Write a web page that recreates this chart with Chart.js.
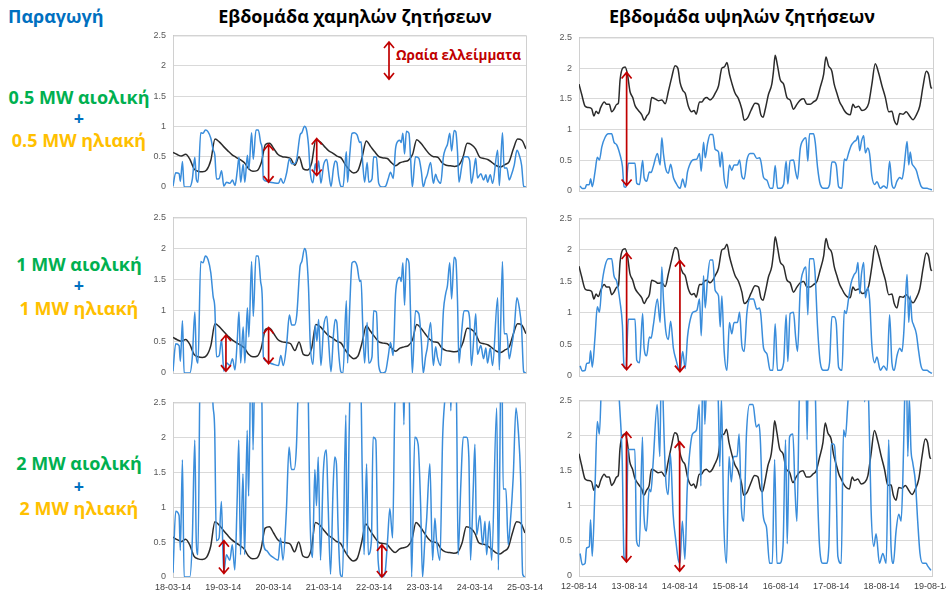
<!DOCTYPE html>
<html lang="el">
<head>
    <meta charset="UTF-8">
    <title>Ωραία ελλείμματα - παραγωγή και ζήτηση</title>
    <script src="https://cdn.jsdelivr.net/npm/chart.js"></script>
    <style>
        html, body {
            margin: 0;
            padding: 0;
            background: #ffffff;
            overflow: hidden;
        }
        #page {
            position: relative;
            width: 946px;
            height: 594px;
            font-family: "Open Sans", "Noto Sans", sans-serif;
        }
        canvas {
            position: absolute;
        }
        .lbl {
            position: absolute;
            font-weight: bold;
            white-space: nowrap;
            line-height: 1;
        }
        .row-lbl {
            left: 0;
            width: 158px;
            text-align: center;
            font-size: 18px;
        }
        .wind { color: #00B050; }
        .solar { color: #FFC000; }
        .plus { color: #0070C0; }
        .title {
            font-size: 18px;
            color: #000000;
            width: 360px;
            text-align: center;
        }
    </style>
</head>
<body>
<div id="page">
    <div class="lbl" style="left:8px; top:7px; font-size:18px; color:#0070C0;">Παραγωγή</div>

    <div class="lbl title" style="left:175px; top:7px;">Εβδομάδα χαμηλών ζητήσεων</div>
    <div class="lbl title" style="left:562px; top:7px;">Εβδομάδα υψηλών ζητήσεων</div>

    <div class="lbl row-lbl wind" style="top:88px;">0.5 MW αιολική</div>
    <div class="lbl row-lbl plus" style="top:109px;">+</div>
    <div class="lbl row-lbl solar" style="top:131px;">0.5 MW ηλιακή</div>

    <div class="lbl row-lbl wind" style="top:255px;">1 MW αιολική</div>
    <div class="lbl row-lbl plus" style="top:276px;">+</div>
    <div class="lbl row-lbl solar" style="top:299px;">1 MW ηλιακή</div>

    <div class="lbl row-lbl wind" style="top:454px;">2 MW αιολική</div>
    <div class="lbl row-lbl plus" style="top:477px;">+</div>
    <div class="lbl row-lbl solar" style="top:499px;">2 MW ηλιακή</div>

    <div class="lbl" style="left:396px; top:49px; font-size:13.5px; color:#C00000;">Ωραία ελλείμματα</div>

    <canvas id="lowA"></canvas>
    <canvas id="lowB"></canvas>
    <canvas id="lowC"></canvas>
    <canvas id="highA"></canvas>
    <canvas id="highB"></canvas>
    <canvas id="highC"></canvas>
</div>

<script>
// ---- ημερομηνίες (ετικέτες άξονα x, μία ανά 24 ώρες) ----
var lowWeekDates = ['18-03-14', '19-03-14', '20-03-14', '21-03-14', '22-03-14', '23-03-14', '24-03-14', '25-03-14'];
var highWeekDates = ['12-08-14', '13-08-14', '14-08-14', '15-08-14', '16-08-14', '17-08-14', '18-08-14', '19-08-14'];

// ---- ζήτηση, εβδομάδα χαμηλών ζητήσεων (MW) ----
var lowDemandHours = [
    0, 2, 4, 6, 8, 10, 12, 14, 16, 18,
    20, 22, 24, 26, 28, 30, 32, 34, 36, 38,
    40, 42, 44, 46, 48, 50, 52, 54, 56, 58,
    60, 62, 64, 66, 68, 70, 72, 74, 76, 78,
    80, 82, 84, 86, 88, 90, 92, 94, 96, 98,
    100, 102, 104, 106, 108, 110, 112, 114, 116, 118,
    120, 122, 124, 126, 128, 130, 132, 134, 136, 138,
    140, 142, 144, 146, 148, 150, 152, 154, 156, 158,
    160, 162, 164, 166, 168
];
var lowDemand = [
    0.57, 0.535, 0.51, 0.54, 0.46, 0.30, 0.26, 0.25, 0.28, 0.44,
    0.79, 0.745, 0.67, 0.60, 0.535, 0.49, 0.45, 0.40, 0.30, 0.26,
    0.27, 0.40, 0.70, 0.72, 0.63, 0.535, 0.50, 0.49, 0.47, 0.36,
    0.50, 0.30, 0.28, 0.40, 0.78, 0.745, 0.67, 0.60, 0.56, 0.51,
    0.48, 0.37, 0.28, 0.23, 0.27, 0.49, 0.76, 0.67, 0.58, 0.50,
    0.48, 0.47, 0.40, 0.35, 0.40, 0.42, 0.44, 0.535, 0.78, 0.72,
    0.63, 0.545, 0.50, 0.49, 0.40, 0.36, 0.35, 0.34, 0.36, 0.49,
    0.72, 0.70, 0.63, 0.49, 0.47, 0.45, 0.40, 0.35, 0.33, 0.37,
    0.42, 0.63, 0.79, 0.77, 0.63
];

// ---- παραγωγή, εβδομάδα χαμηλών ζητήσεων (MW) ----
var lowSupplyHours = [
    0, 1.3, 2.9, 3.5, 4.5, 5.3, 8, 9.2, 10.4, 11.1,
    11.9, 13.2, 14.3, 15.4, 16.7, 18, 19.1, 19.9, 20.7, 22,
    23.1, 24.2, 25.5, 27.1, 28.3, 29.5, 30.6, 31.4, 32.2, 33.4,
    34.2, 35.4, 36.1, 37.4, 38.2, 39.5, 40.6, 41.7, 42.5, 43,
    44.6, 46.2, 47.8, 50.2, 51.3, 52.5, 54.1, 55.4, 56.5, 57.8,
    58.9, 60.5, 61.3, 62.6, 63.4, 64.5, 65.3, 66.6, 67.7, 68.5,
    69.3, 70.4, 71.7, 73.2, 74, 75.2, 76.4, 77.2, 78, 78.8,
    79.9, 80.9, 82.5, 83.1, 84.1, 85.2, 86.3, 87.6, 88.9, 89.5,
    90.3, 91.2, 92.4, 93.2, 94.7, 95.5, 96.8, 97.9, 99.5, 101.1,
    102.4, 103.5, 104.8, 105.9, 107, 108, 108.6, 109.4, 110.2, 111.1,
    112.3, 113.1, 113.9, 115.4, 117, 118.2, 119.1, 120.2, 121, 122.6,
    123.9, 125, 125.8, 127.4, 128.7, 129.8, 130.6, 131.7, 132.6, 133.8,
    134.6, 135.4, 136.1, 137.4, 138.5, 140.1, 141.2, 142, 143.3, 144.1,
    144.9, 146.5, 147.8, 148.9, 149.7, 151, 152.1, 154.5, 155.3, 156.8,
    157.6, 158.9, 160, 160.8, 162.4, 163.7, 164.8, 165.9, 166.9, 168
];
var lowSupplyHalf = [
    0.015, 0.235, 0.22, 0.095, 0.42, 0, 0, 0.13, 0.49, 0.13,
    0.08, 0.895, 0.885, 0.94, 0.91, 0.805, 0.615, 0.525, 0.13, 0.14,
    0.27, 0.015, 0.08, 0.06, 0.115, 0.025, 0.27, 0.49, 0.08, 0.37,
    0.08, 0.525, 0.29, 0.895, 0.455, 0.94, 0.94, 0.735, 0.595, 0.13,
    0.095, 0.08, 0.07, 0.06, 0.14, 0.06, 0.235, 0.465, 0.385, 0.385,
    0.465, 0.86, 0.895, 1.0, 0.965, 0.685, 0.245, 0.07, 0.385, 0.255,
    0.43, 0.06, 0.37, 0.455, 0.27, 0.01, 0.315, 0.43, 0.405, 0.175,
    0.01, 0, 0.58, 0.08, 0.525, 0.885, 0.895, 0.86, 0.735, 0.745,
    0.385, 0.08, 0.405, 0.08, 0.13, 0.5, 0.49, 0.06, 0, 0.01,
    0.13, 0.245, 0.14, 0.63, 0.755, 0.77, 0.735, 0.885, 0.545, 0.92,
    0.885, 0.455, 0, 0.5, 0.475, 0.255, 0, 0.13, 0.2, 0.405,
    0.06, 0.21, 0.13, 0.06, 0.5, 0.64, 0.7, 0.885, 0.595, 0.93,
    0.91, 0.58, 0.08, 0.335, 0.5, 0.5, 0.43, 0.06, 0.315, 0.475,
    0.15, 0.22, 0.115, 0.2, 0.08, 0.2, 0.06, 0.605, 0.025, 0.895,
    0.315, 0.315, 0.115, 0.175, 0.36, 0.605, 0.525, 0.36, 0.01, 0
];
var lowSupplyOne = [
    0.03, 0.47, 0.44, 0.19, 0.84, 0, 0, 0.26, 0.98, 0.26,
    0.16, 1.79, 1.77, 1.88, 1.82, 1.61, 1.23, 1.05, 0.26, 0.28,
    0.54, 0.03, 0.16, 0.12, 0.23, 0.05, 0.54, 0.98, 0.16, 0.74,
    0.16, 1.05, 0.58, 1.79, 0.91, 1.88, 1.88, 1.47, 1.19, 0.26,
    0.19, 0.16, 0.14, 0.12, 0.28, 0.12, 0.47, 0.93, 0.77, 0.77,
    0.93, 1.72, 1.79, 2.0, 1.93, 1.37, 0.49, 0.14, 0.77, 0.51,
    0.86, 0.12, 0.74, 0.91, 0.54, 0.02, 0.63, 0.86, 0.81, 0.35,
    0.02, 0, 1.16, 0.16, 1.05, 1.77, 1.79, 1.72, 1.47, 1.49,
    0.77, 0.16, 0.81, 0.16, 0.26, 1.0, 0.98, 0.12, 0, 0.02,
    0.26, 0.49, 0.28, 1.26, 1.51, 1.54, 1.47, 1.77, 1.09, 1.84,
    1.77, 0.91, 0, 1.0, 0.95, 0.51, 0, 0.26, 0.40, 0.81,
    0.12, 0.42, 0.26, 0.12, 1.0, 1.28, 1.40, 1.77, 1.19, 1.86,
    1.82, 1.16, 0.16, 0.67, 1.0, 1.0, 0.86, 0.12, 0.63, 0.95,
    0.30, 0.44, 0.23, 0.40, 0.16, 0.40, 0.12, 1.21, 0.05, 1.79,
    0.63, 0.63, 0.23, 0.35, 0.72, 1.21, 1.05, 0.72, 0.02, 0
];
var lowSupplyTwo = [
    0.06, 0.94, 0.88, 0.38, 1.68, 0, 0, 0.52, 1.96, 0.52,
    0.32, 3.58, 3.54, 3.76, 3.64, 3.22, 2.46, 2.1, 0.52, 0.56,
    1.08, 0.06, 0.32, 0.24, 0.46, 0.1, 1.08, 1.96, 0.32, 1.48,
    0.32, 2.1, 1.16, 3.58, 1.82, 3.76, 3.76, 2.94, 2.38, 0.52,
    0.38, 0.32, 0.28, 0.24, 0.56, 0.24, 0.94, 1.86, 1.54, 1.54,
    1.86, 3.44, 3.58, 4.0, 3.86, 2.74, 0.98, 0.28, 1.54, 1.02,
    1.72, 0.24, 1.48, 1.82, 1.08, 0.04, 1.26, 1.72, 1.62, 0.7,
    0.04, 0, 2.32, 0.32, 2.1, 3.54, 3.58, 3.44, 2.94, 2.98,
    1.54, 0.32, 1.62, 0.32, 0.52, 2.0, 1.96, 0.24, 0, 0.04,
    0.52, 0.98, 0.56, 2.52, 3.02, 3.08, 2.94, 3.54, 2.18, 3.68,
    3.54, 1.82, 0, 2.0, 1.9, 1.02, 0, 0.52, 0.8, 1.62,
    0.24, 0.84, 0.52, 0.24, 2.0, 2.56, 2.8, 3.54, 2.38, 3.72,
    3.64, 2.32, 0.32, 1.34, 2.0, 2.0, 1.72, 0.24, 1.26, 1.9,
    0.6, 0.88, 0.46, 0.8, 0.32, 0.8, 0.24, 2.42, 0.1, 3.58,
    1.26, 1.26, 0.46, 0.7, 1.44, 2.42, 2.1, 1.44, 0.04, 0
];

// ---- ζήτηση, εβδομάδα υψηλών ζητήσεων (MW) ----
var highDemandHours = [
    0, 1.3, 2.9, 4.4, 6, 7.1, 8.1, 9.2, 10.3, 12,
    13.1, 14.4, 15.5, 16.6, 17.9, 18.7, 19.5, 20.7, 21.9, 23,
    24.2, 25.5, 26.6, 28.2, 29.8, 30.9, 32.1, 33.4, 34.5, 36.1,
    37.7, 39.3, 40.9, 42.4, 44, 45.6, 46.9, 48, 49.2, 50.4,
    51.9, 53.5, 54.6, 55.6, 57.2, 58.3, 59.4, 60.6, 62.2, 63.5,
    64.6, 66.2, 67.8, 69, 70.2, 71.4, 72.5, 74.1, 75.7, 77.3,
    78.4, 80, 81.6, 83.6, 85.2, 86.3, 87.3, 88.4, 89.9, 91.5,
    92.3, 93.1, 94.2, 95.5, 97.1, 98.7, 100.2, 101.8, 103.4, 105,
    106.6, 108.2, 109.7, 111.3, 112.9, 114.5, 116.1, 117.2, 118.4, 120,
    121.1, 122.4, 123.7, 124.8, 125.9, 127.2, 128.7, 130, 131.1, 132.7,
    134.3, 135.9, 137.5, 139, 140.6, 142.2, 143.8, 145.4, 147, 148.5,
    149.6, 150.9, 152.2, 153.8, 155.3, 156.9, 158.5, 160.1, 161.7, 163.3,
    164.8, 165.9, 167, 167.5
];
var highDemand = [
    1.74, 1.57, 1.38, 1.36, 1.34, 1.22, 1.30, 1.26, 1.36, 1.45,
    1.41, 1.41, 1.29, 1.33, 1.41, 1.43, 1.81, 2.0, 2.02, 1.90,
    1.62, 1.52, 1.39, 1.31, 1.24, 1.15, 1.22, 1.29, 1.52, 1.50,
    1.47, 1.48, 1.42, 1.62, 1.85, 2.04, 2.0, 1.76, 1.64, 1.59,
    1.38, 1.29, 1.31, 1.25, 1.45, 1.45, 1.50, 1.52, 1.48, 1.52,
    1.59, 1.71, 2.0, 2.02, 2.09, 1.90, 1.76, 1.59, 1.50, 1.33,
    1.15, 1.19, 1.31, 1.43, 1.41, 1.24, 1.20, 1.33, 1.57, 1.74,
    1.95, 2.21, 2.04, 1.81, 1.74, 1.52, 1.48, 1.33, 1.41, 1.48,
    1.50, 1.41, 1.41, 1.45, 1.50, 1.69, 1.90, 2.18, 2.04, 1.95,
    1.74, 1.59, 1.45, 1.38, 1.31, 1.26, 1.24, 1.41, 1.36, 1.38,
    1.31, 1.33, 1.43, 1.74, 2.07, 1.92, 1.71, 1.52, 1.29, 1.30,
    1.15, 1.08, 1.26, 1.25, 1.29, 1.22, 1.16, 1.24, 1.38, 1.71,
    1.95, 1.90, 1.69, 1.67
];

// ---- παραγωγή, εβδομάδα υψηλών ζητήσεων (MW) ----
var highSupplyHours = [
    0.5, 1.6, 2.9, 3.6, 4.9, 5.5, 6.3, 7.6, 8.7, 9.7,
    10.8, 12.4, 13.9, 15.5, 16.6, 17.9, 19.5, 20.6, 21.4, 22.3,
    23.4, 25, 26.6, 27.4, 28.7, 30.2, 30.9, 32.1, 33.4, 34.2,
    35.3, 37.2, 38.5, 39.3, 40.1, 41.2, 42.4, 43.5, 44.8, 46.1,
    47.2, 48, 49.2, 50.4, 51.5, 52.4, 54, 55.9, 57.2, 58,
    59.1, 59.9, 61, 62.2, 63.5, 64.6, 66.2, 67, 67.8, 68.9,
    70.2, 71.4, 72.5, 73.6, 75.2, 76.2, 77.3, 78.4, 79.7, 81.2,
    82.8, 84.4, 85.7, 86.3, 87.6, 89.2, 90.7, 92, 93.1, 94.2,
    95.5, 97.1, 98.3, 99.1, 100.2, 101.8, 102.8, 103.7, 105, 106.6,
    107.7, 108.6, 109.4, 111.3, 112.1, 113.2, 114.5, 116.1, 117.7, 118.9,
    120, 121.1, 122.1, 123.2, 124.8, 125.9, 126.8, 127.9, 129.1, 130.6,
    131.6, 132.4, 133.2, 134.1, 135.1, 135.9, 137, 137.9, 139, 140.3,
    141.4, 143, 144.6, 146.2, 147.4, 148.5, 149.6, 150.9, 152.2, 153.3,
    154.1, 154.9, 155.7, 156.5, 157.2, 158, 158.8, 160.1, 161.2, 162.3,
    163.6, 165.2, 166, 167.5
];
var highSupplyHalf = [
    0.08, 0.04, 0.045, 0.10, 0.105, 0.20, 0.07, 0.31, 0.55, 0.505,
    0.715, 0.875, 0.93, 0.93, 0.795, 0.75, 0.585, 0.405, 0.07, 0.06,
    0.45, 0.45, 0.45, 0.125, 0.105, 0.495, 0.22, 0.16, 0.31, 0.30,
    0.405, 0.61, 0.425, 0.865, 0.60, 0.355, 0.29, 0.435, 0.22, 0.125,
    0.06, 0.045, 0.195, 0.06, 0.31, 0.415, 0.505, 0.52, 0.61, 0.32,
    0.795, 0.54, 0.77, 0.92, 0.92, 0.68, 0.635, 0.39, 0.635, 0.195,
    0.045, 0.425, 0.335, 0.425, 0.425, 0.505, 0.24, 0.195, 0.505, 0.61,
    0.61, 0.53, 0.54, 0.485, 0.22, 0.175, 0.045, 0.045, 0.415, 0.045,
    0.045, 0.105, 0.485, 0.115, 0.495, 0.505, 0.31, 0.195, 0.69, 0.84,
    0.865, 0.485, 0.93, 0.93, 0.795, 0.39, 0.105, 0.045, 0.045, 0.105,
    0.47, 0.47, 0.415, 0.07, 0.045, 0.52, 0.495, 0.61, 0.735, 0.805,
    0.83, 0.90, 0.655, 0.815, 0.90, 0.62, 0.70, 0.61, 0.24, 0.105,
    0.15, 0.045, 0.08, 0.045, 0.485, 0.105, 0.045, 0.16, 0.22, 0.195,
    0.335, 0.60, 0.805, 0.425, 0.635, 0.45, 0.405, 0.335, 0.195, 0.08,
    0.045, 0.045, 0.035, 0.02
];
var highSupplyOne = [
    0.16, 0.08, 0.09, 0.20, 0.21, 0.40, 0.14, 0.62, 1.10, 1.01,
    1.43, 1.75, 1.86, 1.86, 1.59, 1.50, 1.17, 0.81, 0.14, 0.12,
    0.90, 0.90, 0.90, 0.25, 0.21, 0.99, 0.44, 0.32, 0.62, 0.60,
    0.81, 1.22, 0.85, 1.73, 1.20, 0.71, 0.58, 0.87, 0.44, 0.25,
    0.12, 0.09, 0.39, 0.12, 0.62, 0.83, 1.01, 1.04, 1.22, 0.64,
    1.59, 1.08, 1.54, 1.84, 1.84, 1.36, 1.27, 0.78, 1.27, 0.39,
    0.09, 0.85, 0.67, 0.85, 0.85, 1.01, 0.48, 0.39, 1.01, 1.22,
    1.22, 1.06, 1.08, 0.97, 0.44, 0.35, 0.09, 0.09, 0.83, 0.09,
    0.09, 0.21, 0.97, 0.23, 0.99, 1.01, 0.62, 0.39, 1.38, 1.68,
    1.73, 0.97, 1.86, 1.86, 1.59, 0.78, 0.21, 0.09, 0.09, 0.21,
    0.94, 0.94, 0.83, 0.14, 0.09, 1.04, 0.99, 1.22, 1.47, 1.61,
    1.66, 1.80, 1.31, 1.63, 1.80, 1.24, 1.40, 1.22, 0.48, 0.21,
    0.30, 0.09, 0.16, 0.09, 0.97, 0.21, 0.09, 0.32, 0.44, 0.39,
    0.67, 1.20, 1.61, 0.85, 1.27, 0.90, 0.81, 0.67, 0.39, 0.16,
    0.09, 0.09, 0.07, 0.04
];
var highSupplyTwo = [
    0.32, 0.16, 0.18, 0.40, 0.42, 0.80, 0.28, 1.24, 2.20, 2.02,
    2.86, 3.50, 3.72, 3.72, 3.18, 3.00, 2.34, 1.62, 0.28, 0.24,
    1.80, 1.80, 1.80, 0.50, 0.42, 1.98, 0.88, 0.64, 1.24, 1.20,
    1.62, 2.44, 1.70, 3.46, 2.40, 1.42, 1.16, 1.74, 0.88, 0.50,
    0.24, 0.18, 0.78, 0.24, 1.24, 1.66, 2.02, 2.08, 2.44, 1.28,
    3.18, 2.16, 3.08, 3.68, 3.68, 2.72, 2.54, 1.56, 2.54, 0.78,
    0.18, 1.70, 1.34, 1.70, 1.70, 2.02, 0.96, 0.78, 2.02, 2.44,
    2.44, 2.12, 2.16, 1.94, 0.88, 0.70, 0.18, 0.18, 1.66, 0.18,
    0.18, 0.42, 1.94, 0.46, 1.98, 2.02, 1.24, 0.78, 2.76, 3.36,
    3.46, 1.94, 3.72, 3.72, 3.18, 1.56, 0.42, 0.18, 0.18, 0.42,
    1.88, 1.88, 1.66, 0.28, 0.18, 2.08, 1.98, 2.44, 2.94, 3.22,
    3.32, 3.60, 2.62, 3.26, 3.60, 2.48, 2.80, 2.44, 0.96, 0.42,
    0.60, 0.18, 0.32, 0.18, 1.94, 0.42, 0.18, 0.64, 0.88, 0.78,
    1.34, 2.40, 3.22, 1.70, 2.54, 1.80, 1.62, 1.34, 0.78, 0.32,
    0.18, 0.18, 0.14, 0.08
];

// ---- βέλη ελλειμμάτων: [ώρα, πάνω τιμή, κάτω τιμή] ----
var lowArrowsHalf = [[102.8, 2.39, 1.78], [45.5, 0.70, 0.08], [68.4, 0.80, 0.19]];
var lowArrowsOne = [[25.2, 0.61, 0.03], [45.5, 0.73, 0.15]];
var lowArrowsTwo = [[24.3, 0.52, 0.05], [99.7, 0.46, 0.0]];
var highArrowsHalf = [[22.6, 1.93, 0.09]];
var highArrowsOne = [[22.6, 1.95, 0.10], [47.9, 1.83, 0.07]];
var highArrowsTwo = [[22.6, 2.05, 0.20], [47.9, 1.91, 0.07]];

var yTicks = [0, 0.5, 1, 1.5, 2, 2.5];

function toPoints(xs, ys) {
    return xs.map(function (x, i) { return { x: x, y: ys[i] }; });
}

// πλαίσιο γύρω από την περιοχή σχεδίασης
var frame = {
    id: 'frame',
    beforeDatasetsDraw: function (chart) {
        var a = chart.chartArea, ctx = chart.ctx;
        ctx.save();
        ctx.strokeStyle = '#d0d0d0';
        ctx.lineWidth = 1;
        ctx.strokeRect(a.left + 0.5, a.top + 0.5, a.right - a.left, a.bottom - a.top);
        ctx.restore();
    }
};

// κόκκινα διπλά βέλη
var arrows = {
    id: 'arrows',
    afterDatasetsDraw: function (chart, args, opts) {
        var ctx = chart.ctx, xs = chart.scales.x, ys = chart.scales.y;
        ctx.save();
        ctx.strokeStyle = '#C00000';
        ctx.lineWidth = 1.7;
        (opts.items || []).forEach(function (a) {
            var px = xs.getPixelForValue(a[0]);
            var top = ys.getPixelForValue(a[1]);
            var bot = ys.getPixelForValue(a[2]);
            ctx.beginPath();
            ctx.moveTo(px, top);
            ctx.lineTo(px, bot);
            ctx.moveTo(px - 5, top + 6);
            ctx.lineTo(px, top);
            ctx.lineTo(px + 5, top + 6);
            ctx.moveTo(px - 5, bot - 6);
            ctx.lineTo(px, bot);
            ctx.lineTo(px + 5, bot - 6);
            ctx.stroke();
        });
        ctx.restore();
    }
};

function makePanel(id, plotLeft, plotRight, plotTop, plotBottom, showDates, dates,
                   demandX, demandY, supplyX, supplyY, arrowItems) {
    var yWidth = 30, padTop = 6, padRight = 22, xHeight = 17;
    var canvas = document.getElementById(id);
    var w = plotRight - plotLeft + yWidth + padRight;
    var h = plotBottom - plotTop + padTop + (showDates ? xHeight : 4);
    canvas.style.left = (plotLeft - yWidth) + 'px';
    canvas.style.top = (plotTop - padTop) + 'px';
    canvas.width = w;
    canvas.height = h;
    canvas.style.width = w + 'px';
    canvas.style.height = h + 'px';

    return new Chart(canvas.getContext('2d'), {
        type: 'line',
        data: {
            datasets: [{
                label: 'Παραγωγή',
                data: toPoints(supplyX, supplyY),
                borderColor: '#3A8DDB',
                borderWidth: 1.5,
                pointRadius: 0,
                cubicInterpolationMode: 'monotone',
                fill: false
            }, {
                label: 'Ζήτηση',
                data: toPoints(demandX, demandY),
                borderColor: '#2b2b2b',
                borderWidth: 1.5,
                pointRadius: 0,
                cubicInterpolationMode: 'monotone',
                fill: false
            }]
        },
        options: {
            responsive: false,
            animation: false,
            layout: { padding: { top: padTop, right: padRight, bottom: showDates ? 0 : 4, left: 0 } },
            plugins: {
                legend: { display: false },
                tooltip: { enabled: false },
                arrows: { items: arrowItems }
            },
            scales: {
                x: {
                    type: 'linear',
                    min: 0,
                    max: 168,
                    display: showDates,
                    grid: { display: false, drawTicks: false },
                    border: { display: false },
                    afterFit: function (scale) { scale.height = xHeight; },
                    ticks: {
                        stepSize: 24,
                        autoSkip: false,
                        maxRotation: 0,
                        padding: 5,
                        color: '#404040',
                        font: { family: 'Liberation Sans', size: 9 },
                        callback: function (v) { return dates[Math.round(v / 24)]; }
                    }
                },
                y: {
                    min: 0,
                    max: 2.5,
                    afterFit: function (scale) { scale.width = yWidth; },
                    afterBuildTicks: function (scale) {
                        scale.ticks = yTicks.map(function (v) { return { value: v }; });
                    },
                    grid: { color: '#d9d9d9', drawTicks: false },
                    border: { display: true, color: '#bfbfbf' },
                    ticks: {
                        padding: 7,
                        color: '#595959',
                        font: { family: 'Liberation Sans', size: 9 },
                        callback: function (v) { return String(v); }
                    }
                }
            }
        },
        plugins: [frame, arrows]
    });
}

makePanel('lowA', 173, 526, 29, 204, false, lowWeekDates, lowDemandHours, lowDemand, lowSupplyHours, lowSupplyHalf, lowArrowsHalf);
makePanel('lowB', 173, 526, 211, 390, false, lowWeekDates, lowDemandHours, lowDemand, lowSupplyHours, lowSupplyOne, lowArrowsOne);
makePanel('lowC', 173, 526, 396, 577, true, lowWeekDates, lowDemandHours, lowDemand, lowSupplyHours, lowSupplyTwo, lowArrowsTwo);
makePanel('highA', 579, 933, 31, 208, false, highWeekDates, highDemandHours, highDemand, highSupplyHours, highSupplyHalf, highArrowsHalf);
makePanel('highB', 579, 933, 212, 393, false, highWeekDates, highDemandHours, highDemand, highSupplyHours, highSupplyOne, highArrowsOne);
makePanel('highC', 579, 933, 394, 576, true, highWeekDates, highDemandHours, highDemand, highSupplyHours, highSupplyTwo, highArrowsTwo);
</script>
</body>
</html>
